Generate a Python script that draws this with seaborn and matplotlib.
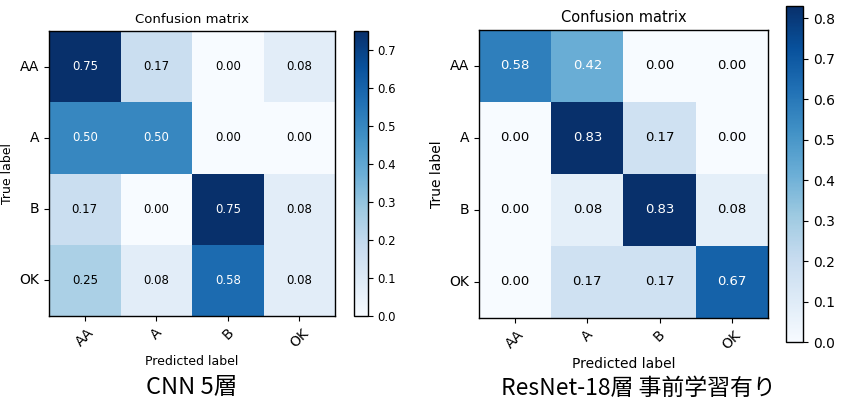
import numpy as np
import seaborn as sns
import matplotlib.pyplot as plt

# Class labels shared by both matrices
classes = ["AA", "A", "B", "OK"]

# Normalized confusion matrix, CNN 5 layers
cnn_values = [[0.75, 0.17, 0.00, 0.08],
              [0.50, 0.50, 0.00, 0.00],
              [0.17, 0.00, 0.75, 0.08],
              [0.25, 0.08, 0.58, 0.08]]

# Normalized confusion matrix, ResNet-18 pretrained
resnet_values = [[0.58, 0.42, 0.00, 0.00],
                 [0.00, 0.83, 0.17, 0.00],
                 [0.00, 0.08, 0.83, 0.08],
                 [0.00, 0.17, 0.17, 0.67]]

cnn_caption = "CNN 5層"
resnet_caption = "ResNet-18層 事前学習有り"
title = "Confusion matrix"


def draw_matrix(fig, ax_rect, cbar_rect, values, cbar_ticks, annot_size,
                tick_size, title_size, label_size, cbar_size):
	values = np.array(values)
	ax = fig.add_axes(ax_rect)
	cax = fig.add_axes(cbar_rect)
	sns.heatmap(values, ax=ax, cbar_ax=cax, cmap="Blues", vmin=0,
				vmax=values.max(), annot=False, square=False,
				xticklabels=classes, yticklabels=classes)
	# cell text: white on dark cells, black otherwise
	thresh = values.max() / 2.0
	for i in range(values.shape[0]):
		for j in range(values.shape[1]):
			ax.text(j + 0.5, i + 0.5, format(values[i, j], ".2f"),
					ha="center", va="center", fontsize=annot_size,
					color="white" if values[i, j] > thresh else "black")
	for s in ax.spines.values():
		s.set_visible(True)
		s.set_linewidth(1.0)
	ax.set_xticklabels(classes, rotation=45, fontsize=tick_size)
	ax.set_yticklabels(classes, rotation=0, va="center", fontsize=tick_size)
	ax.set_title(title, fontsize=title_size)
	ax.set_xlabel("Predicted label", fontsize=label_size)
	ax.set_ylabel("True label", fontsize=label_size)
	cbar = ax.collections[0].colorbar
	cbar.outline.set_linewidth(1.0)
	cbar.set_ticks(cbar_ticks)
	cbar.ax.tick_params(labelsize=cbar_size)
	return ax


fig = plt.figure(figsize=(8.44, 4.07), dpi=100)

draw_matrix(fig, [0.0581, 0.2236, 0.339, 0.700], [0.4194, 0.2236, 0.0166, 0.700],
			cnn_values, np.arange(0, 0.71, 0.1), 8.5, 10, 9.5, 9, 8.5)
draw_matrix(fig, [0.5675, 0.2187, 0.3424, 0.7076], [0.9313, 0.1597, 0.0201, 0.8256],
			resnet_values, np.arange(0, 0.81, 0.1), 9.5, 10, 10.5, 10, 10)

cap_font = ["Noto Sans CJK JP", "DejaVu Sans"]
fig.text(192 / 844, 1 - 387 / 407, cnn_caption, ha="center", va="center",
		 fontsize=17, family=cap_font)
fig.text(638 / 844, 1 - 388 / 407, resnet_caption, ha="center", va="center",
		 fontsize=16.5, family=cap_font)

fig.savefig("out.png", dpi=100)
